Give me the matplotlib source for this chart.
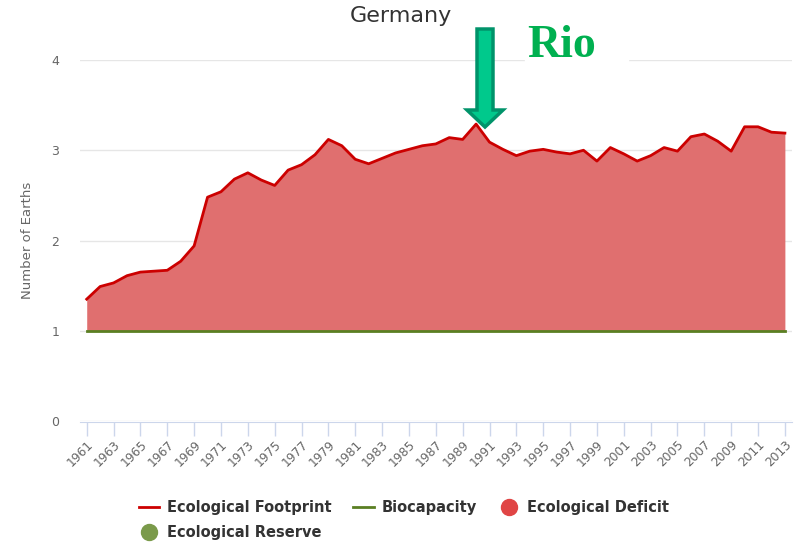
import numpy as np
import matplotlib.pyplot as plt
from matplotlib.lines import Line2D
from matplotlib.patches import Polygon, Rectangle

# Germany, number of Earths
years = np.arange(1961, 2014)
footprint = [1.35, 1.49, 1.53, 1.61, 1.65, 1.66, 1.67, 1.77, 1.94, 2.48,
             2.54, 2.68, 2.75, 2.67, 2.61, 2.78, 2.84, 2.95, 3.12, 3.05,
             2.90, 2.85, 2.91, 2.97, 3.01, 3.05, 3.07, 3.14, 3.12, 3.29,
             3.09, 3.01, 2.94, 2.99, 3.01, 2.98, 2.96, 3.00, 2.88, 3.03,
             2.96, 2.88, 2.94, 3.03, 2.99, 3.15, 3.18, 3.10, 2.99, 3.26,
             3.26, 3.20, 3.19]
biocapacity = [1.0] * len(years)
tick_years = list(range(1961, 2014, 2))
y_ticks = [0, 1, 2, 3, 4]

W, H = 798, 545
fig = plt.figure(figsize=(W / 100, H / 100), dpi=100)
ax = fig.add_axes([80 / W, 1 - 421 / H, 711.6 / W, 361 / H])

fp = np.array(footprint)
bc = np.array(biocapacity)
ax.fill_between(years, bc, fp, where=fp >= bc, color='#e06f6f', lw=0, zorder=2)
ax.fill_between(years, bc, fp, where=fp < bc, color='#7a9a4a', lw=0, zorder=2)
ax.plot(years, footprint, color='#cc0000', lw=2.0, zorder=4)
ax.plot(years, biocapacity, color='#5a7f22', lw=2.0, zorder=3)

ax.set_xlim(1960.5, 2013.5)
ax.set_ylim(0, 4)
ax.set_yticks(y_ticks)
ax.set_xticks(tick_years)
ax.set_xticklabels([str(y) for y in tick_years])
ax.grid(axis='y', color='#e6e6e6', lw=1, zorder=0)
ax.set_axisbelow(True)
for s in ['top', 'right', 'left']:
    ax.spines[s].set_visible(False)
ax.spines['bottom'].set_color('#ccd6eb')
ax.spines['bottom'].set_position(('outward', 1))
ax.tick_params(axis='x', colors='#ccd6eb', length=10, width=1, labelcolor='#666666',
               labelsize=8.8, pad=1, labelrotation=45)
ax.tick_params(axis='y', length=0, labelcolor='#666666', labelsize=9, pad=15)
plt.setp(ax.get_xticklabels(), ha='right', va='top', rotation_mode='anchor')
ax.set_ylabel('Number of Earths', color='#666666', fontsize=9.5)
ax.yaxis.set_label_coords(-0.065, 0.5)

fig.text(401 / W, 1 - 16 / H, 'Germany', ha='center', va='center',
         fontsize=16, color='#333333')

# "Rio" annotation (1992 Earth Summit)
fig.add_artist(Rectangle((525 / W, 1 - 66 / H), 103 / W, 48 / H,
                         transform=fig.transFigure, color='white', zorder=5))
fig.text(527 / W, 1 - 57 / H, 'Rio', ha='left', va='baseline', fontsize=33,
         fontweight='bold', family='Liberation Serif', color='#00b050', zorder=6)
arrow_px = [(477, 29), (493, 29), (493, 110), (503, 110), (485, 127),
            (467, 110), (477, 110)]
fig.add_artist(Polygon([(x / W, 1 - y / H) for x, y in arrow_px], closed=True,
                       transform=fig.transFigure, facecolor='#00c98c',
                       edgecolor='#00936a', lw=2.5, zorder=6))

handles = [
    Line2D([], [], color='#cc0000', lw=2),
    Line2D([], [], ls='none', marker='o', markersize=11.5, color='#7a9a4a'),
    Line2D([], [], color='#5a7f22', lw=2),
    Line2D([], [], ls='none', marker='o', markersize=11.5, color='#e04545'),
]
labels = ['Ecological Footprint', 'Ecological Reserve', 'Biocapacity',
          'Ecological Deficit']
leg = fig.legend(handles, labels, ncol=3, loc='center',
                 bbox_to_anchor=(404 / W, 1 - 520 / H), frameon=False,
                 prop={'weight': 'bold', 'size': 10.5}, handlelength=1.4,
                 handletextpad=0.55, columnspacing=1.5, labelspacing=0.65)
for t in leg.get_texts():
    t.set_color('#333333')

fig.savefig('out.png', dpi=100)
